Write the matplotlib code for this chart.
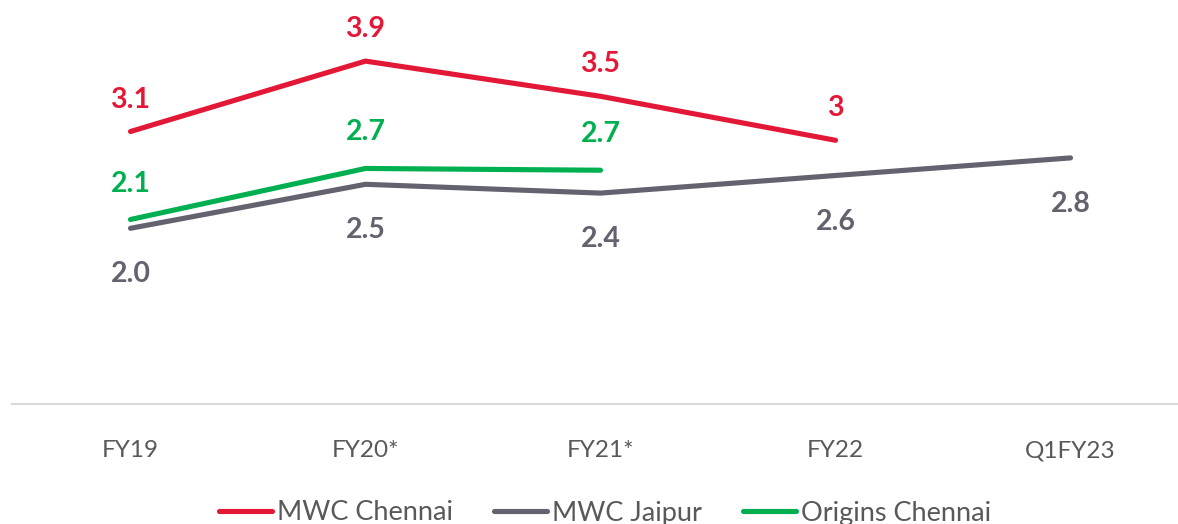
import matplotlib
matplotlib.use("Agg")
import matplotlib.pyplot as plt

categories = ["FY19", "FY20*", "FY21*", "FY22", "Q1FY23"]
mwc_chennai = [3.1, 3.9, 3.5, 3.0]
mwc_chennai_labels = ["3.1", "3.9", "3.5", "3"]
mwc_jaipur = [2.0, 2.5, 2.4, 2.6, 2.8]
mwc_jaipur_labels = ["2.0", "2.5", "2.4", "2.6", "2.8"]
origins_chennai = [2.1, 2.68, 2.66]
origins_chennai_labels = ["2.1", "2.7", "2.7"]

RED = "#E31837"
GRAY = "#63626F"
GREEN = "#00B050"
TXT = "#595959"

plt.rcParams['font.family'] = ['Lato', 'DejaVu Sans']

W, H = 1178, 524
fig = plt.figure(figsize=(W / 100, H / 100), dpi=100)
left_px, right_px, base_px = 12, 1177, 404.3
ax = fig.add_axes([left_px / W, (H - base_px) / H, (right_px - left_px) / W, base_px / H])

x0_px, step_px, px_per_unit = 130.5, 235.0, 88.0
ax.set_xlim((left_px - x0_px) / step_px, (right_px - x0_px) / step_px)
ax.set_ylim(0, base_px / px_per_unit)

lw = 3.7
series = [
    (mwc_chennai, mwc_chennai_labels, RED, "MWC Chennai", -32, 3),
    (mwc_jaipur, mwc_jaipur_labels, GRAY, "MWC Jaipur", 46, 2),
    (origins_chennai, origins_chennai_labels, GREEN, "Origins Chennai", -36, 3),
]
handles = []
for vals, labs, col, name, off, z in series:
    xs = list(range(len(vals)))
    h, = ax.plot(xs, vals, color=col, lw=lw, solid_capstyle='round',
                 solid_joinstyle='miter', label=name, zorder=z)
    handles.append(h)
    for xi, v, lab in zip(xs, vals, labs):
        ax.annotate(lab, (xi, v), xytext=(0, -off), textcoords='offset pixels',
                    ha='center', va='center', fontsize=20.5, fontweight='bold',
                    color=col)

for s in ['top', 'right', 'left']:
    ax.spines[s].set_visible(False)
ax.spines['bottom'].set_color('#D9D9D9')
ax.spines['bottom'].set_linewidth(1.5)
ax.set_yticks([])
ax.set_xticks(range(len(categories)))
ax.set_xticklabels(categories, fontsize=17.5, color=TXT)
ax.tick_params(axis='x', length=0, pad=26)

leg = fig.legend(handles=handles, loc='center', bbox_to_anchor=(605 / W, 11 / H),
                 ncol=3, frameon=False, fontsize=19.5, handlelength=1.98,
                 handletextpad=0.18, columnspacing=1.5, borderpad=0)
for t in leg.get_texts():
    t.set_color(TXT)

fig.savefig("out.png", dpi=100)
